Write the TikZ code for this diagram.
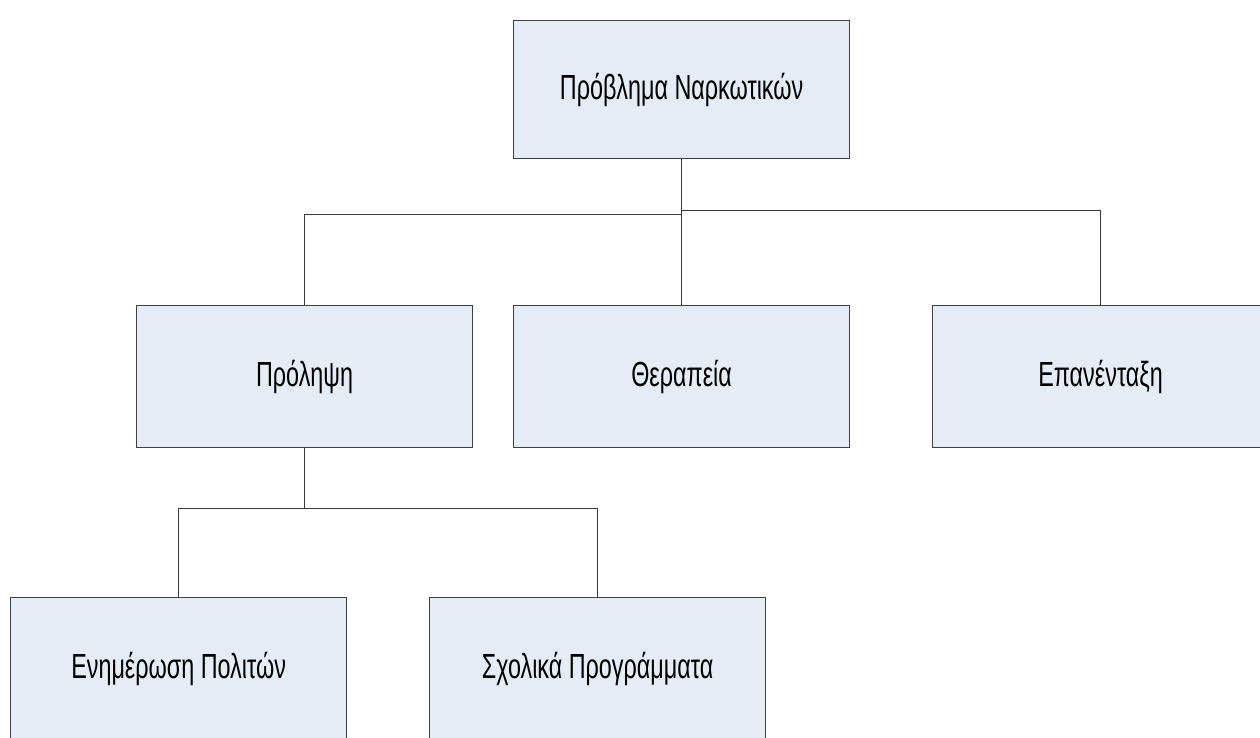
\documentclass[tikz,border=0pt]{standalone}
\usepackage{fontspec}
\setmainfont{Liberation Sans}[FakeStretch=0.67]
\definecolor{boxfill}{HTML}{E6ECF6}
\definecolor{boxline}{HTML}{404040}
\definecolor{connline}{HTML}{3A3A3A}
\begin{document}
\begin{tikzpicture}[x=1bp,y=-1bp,
  orgbox/.style={draw=boxline, fill=boxfill, line width=1.2bp, minimum width=336bp, minimum height=140bp, inner sep=0pt, anchor=north west, font=\fontsize{35}{40}\selectfont, text=black},
  conn/.style={draw=connline, line width=1bp}]
\useasboundingbox (0,0) rectangle (1260,738);
\clip (0,0) rectangle (1260,738);
\node[orgbox, minimum height=138bp] (top) at (513,20) {Πρόβλημα Ναρκωτικών};
\node[orgbox, minimum height=142bp] (prol) at (136,305) {Πρόληψη};
\node[orgbox, minimum height=142bp] (ther) at (513,305) {Θεραπεία};
\node[orgbox, minimum height=142bp] (epan) at (932,305) {Επανένταξη};
\node[orgbox, minimum height=142bp] (enim) at (10,597) {Ενημέρωση Πολιτών};
\node[orgbox, minimum height=142bp] (sxol) at (429,597) {Σχολικά Προγράμματα};
\coordinate (jl) at (top.south |- 0,214);
\coordinate (jr) at (top.south |- 0,210);
\coordinate (jb) at (prol.south |- 0,508);
\draw[conn] (top.south) -- (ther.north);
\draw[conn] (jl) -| (prol.north);
\draw[conn] (jr) -| (epan.north);
\draw[conn] (prol.south) -- (jb);
\draw[conn] (jb) -| (enim.north);
\draw[conn] (jb) -| (sxol.north);
\end{tikzpicture}
\end{document}
